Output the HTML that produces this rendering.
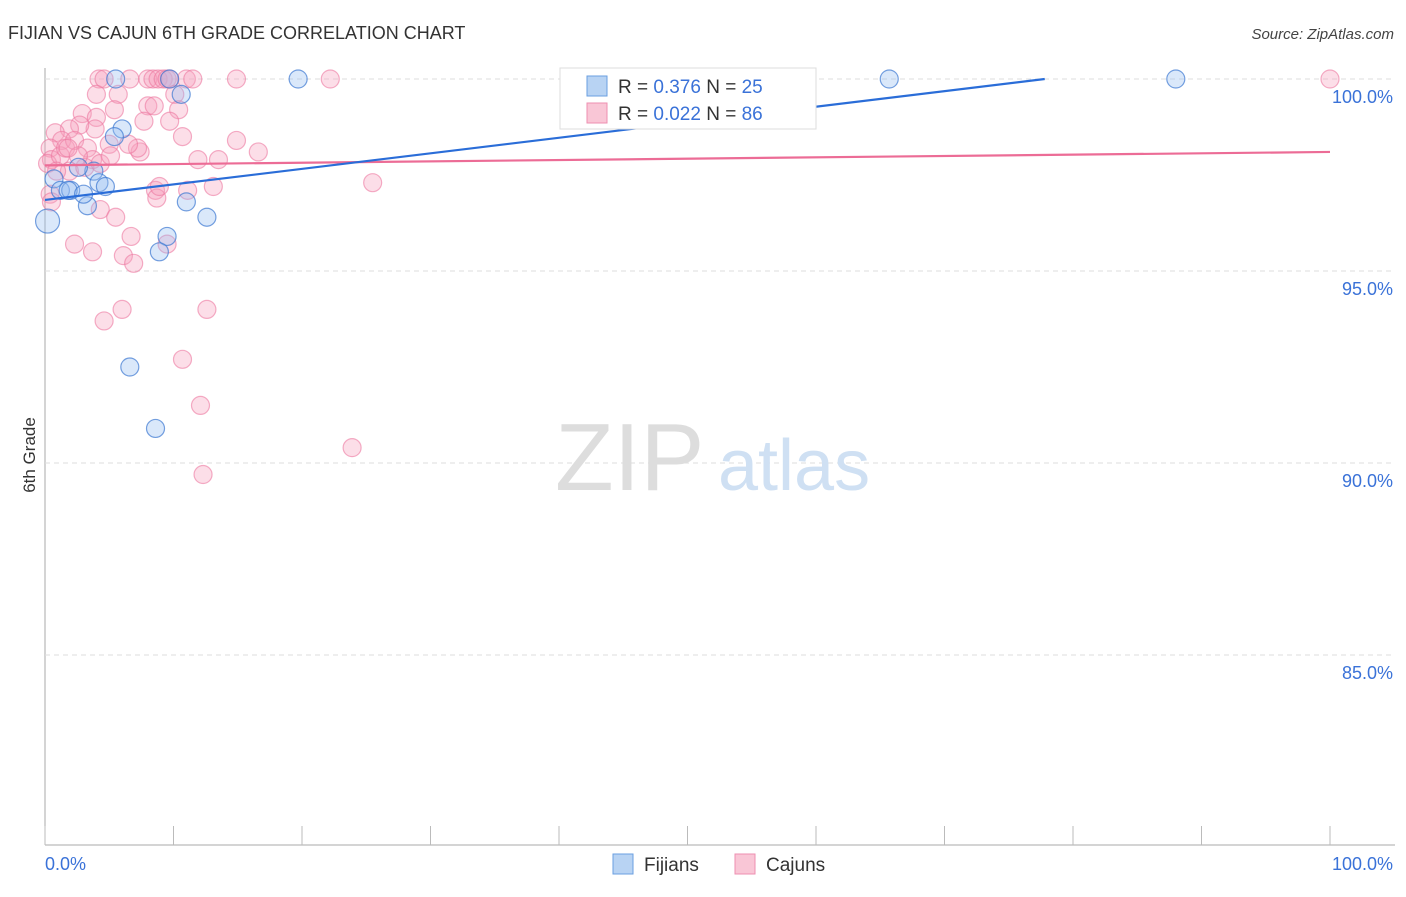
<!DOCTYPE html>
<html><head><meta charset="utf-8"><style>
body{margin:0;background:#fff;font-family:"Liberation Sans",sans-serif}
svg text{font-family:"Liberation Sans",sans-serif}
</style></head><body>
<svg id="chart" width="1406" height="892">
<text x="8" y="39" font-size="18" fill="#333">FIJIAN VS CAJUN 6TH GRADE CORRELATION CHART</text>
<text x="1394" y="39" font-size="15" fill="#444" font-style="italic" text-anchor="end">Source: ZipAtlas.com</text>
<text x="35" y="455" font-size="17" fill="#333" transform="rotate(-90 35 455)" text-anchor="middle">6th Grade</text>
<g id="grid"></g>
<text x="555" y="490" font-size="96" fill="#ddd" font-family="Liberation Serif">ZIP</text>
<text x="718" y="490" font-size="72" fill="#cfe0f3">atlas</text>
<g id="marks"></g>
<g>
<rect x="560" y="68" width="256" height="61" fill="#fff" stroke="#ddd"/>
<rect x="587" y="76" width="20" height="20" fill="#b8d3f3" stroke="#6a9fe0"/>
<text x="618" y="93" font-size="19" fill="#333">R = <tspan fill="#3a72d8">0.376</tspan>   N = <tspan fill="#3a72d8">25</tspan></text>
<rect x="587" y="103" width="20" height="20" fill="#f9c6d6" stroke="#ee8fb0"/>
<text x="618" y="120" font-size="19" fill="#333">R = <tspan fill="#3a72d8">0.022</tspan>   N = <tspan fill="#3a72d8">86</tspan></text>
</g>
<g>
<rect x="613" y="854" width="20" height="20" fill="#b8d3f3" stroke="#6a9fe0"/>
<text x="644" y="871" font-size="19" fill="#333">Fijians</text>
<rect x="735" y="854" width="20" height="20" fill="#f9c6d6" stroke="#ee8fb0"/>
<text x="766" y="871" font-size="19" fill="#333">Cajuns</text>
</g>
</svg>
<script>
const yTicks=[100,95,90,85];
const xTickLabels=["0.0%","100.0%"];
const fijianX=[5.5,9.7,19.7,65.7,88.0,10.6,6.0,5.4,0.2,0.7,1.2,2.0,1.8,3.3,3.0,3.8,4.2,4.7,11.0,12.6,9.5,8.9,6.6,8.6,2.6];
const fijianY=[100,100,100,100,100,99.6,98.7,98.5,96.3,97.4,97.1,97.1,97.1,96.7,97.0,97.6,97.3,97.2,96.8,96.4,95.9,95.5,92.5,90.9,97.7];
const cajunX=[4.2,4.6,6.6,8.0,8.4,8.8,9.2,9.5,9.7,11.0,11.5,14.9,22.2,100,4.0,5.7,10.1,2.9,4.0,8.0,8.5,5.4,10.4,7.7,9.7,10.7,14.9,16.6,13.5,11.9,7.4,7.2,5.0,6.5,3.9,2.7,1.9,0.8,1.3,0.4,0.5,0.2,1.2,1.6,2.3,3.3,3.7,1.9,3.1,4.3,5.1,2.6,1.8,0.9,8.6,8.7,8.9,11.1,13.1,25.5,4.3,5.5,6.7,2.3,3.7,6.1,6.9,9.5,4.6,6.0,12.6,10.7,12.1,23.9,12.3,0.4,0.5];
const cajunY=[100,100,100,100,100,100,100,100,100,100,100,100,100,100,99.6,99.6,99.6,99.1,99.0,99.3,99.3,99.2,99.2,98.9,98.9,98.5,98.4,98.1,97.9,97.9,98.1,98.2,98.3,98.3,98.7,98.8,98.7,98.6,98.4,98.2,97.9,97.8,98.0,98.2,98.4,98.2,97.9,97.6,97.7,97.8,98.0,98.0,98.2,97.6,97.1,96.9,97.2,97.1,97.2,97.3,96.6,96.4,95.9,95.7,95.5,95.4,95.2,95.7,93.7,94.0,94.0,92.7,91.5,90.4,89.7,97.0,96.8];
const fijianBig=[0,0,0,0,0,0,0,0,1,0,0,0,0,0,0,0,0,0,0,0,0,0,0,0,0];
const fijianTrend=[96.85,100];
const fijianTrendEndX=77.8;
const cajunTrend=[97.75,98.1];
const X0=45,X1=1330,YT=79,PPU=38.4,YB=845;
const xs=v=>X0+(X1-X0)*v/100;
const ys=v=>YT+(100-v)*PPU;
const NS="http://www.w3.org/2000/svg";
const grid=document.getElementById('grid'),marks=document.getElementById('marks');
function mk(tag,at,p){const e=document.createElementNS(NS,tag);for(const k in at)e.setAttribute(k,at[k]);p.appendChild(e);return e;}
let ax=mk('line',{x1:X0,y1:68,x2:X0,y2:YB,stroke:'#aaa'},grid);


let bx=mk('line',{x1:X0,y1:YB,x2:1395,y2:YB,stroke:'#aaa'},grid);


yTicks.forEach(t=>{
 let l=mk('line',{x1:X0,y1:ys(t),x2:1395,y2:ys(t),stroke:'#ddd','stroke-dasharray':'5,4'},grid);
 
 
 let tx=mk('text',{x:1393,y:ys(t)+24,'font-size':18,fill:'#3a72d8','text-anchor':'end'},grid);
 tx.textContent=t.toFixed(1)+'%';
 
 
});
for(let i=0;i<=10;i++){
 let l=mk('line',{x1:xs(i*10),y1:826,x2:xs(i*10),y2:YB,stroke:'#bbb'},grid);
 
 
}
xTickLabels.forEach((s,i)=>{
 let tx=mk('text',{x:i?1393:45,y:870,'font-size':18,fill:'#3a72d8','text-anchor':i?'end':'start'},grid);
 tx.textContent=s;
 
 
});
cajunX.forEach((v,i)=>{
 let c=mk('circle',{cx:xs(v),cy:ys(cajunY[i]),r:9,fill:'rgba(246,160,190,0.35)',stroke:'rgba(236,120,160,0.6)','stroke-width':1.2},marks);
 
 
});
fijianX.forEach((v,i)=>{
 let c=mk('circle',{cx:xs(v),cy:ys(fijianY[i]),r:fijianBig[i]?12:9,fill:'rgba(150,190,240,0.35)',stroke:'rgba(60,120,210,0.7)','stroke-width':1.2},marks);
 
 
});
let pl=mk('line',{x1:xs(0),y1:ys(cajunTrend[0]),x2:xs(100),y2:ys(cajunTrend[1]),stroke:'#ec6c96','stroke-width':2.2},marks);


let bl=mk('line',{x1:xs(0),y1:ys(fijianTrend[0]),x2:xs(fijianTrendEndX),y2:ys(fijianTrend[1]),stroke:'#2a6dd8','stroke-width':2.2},marks);


</script>
</body></html>
